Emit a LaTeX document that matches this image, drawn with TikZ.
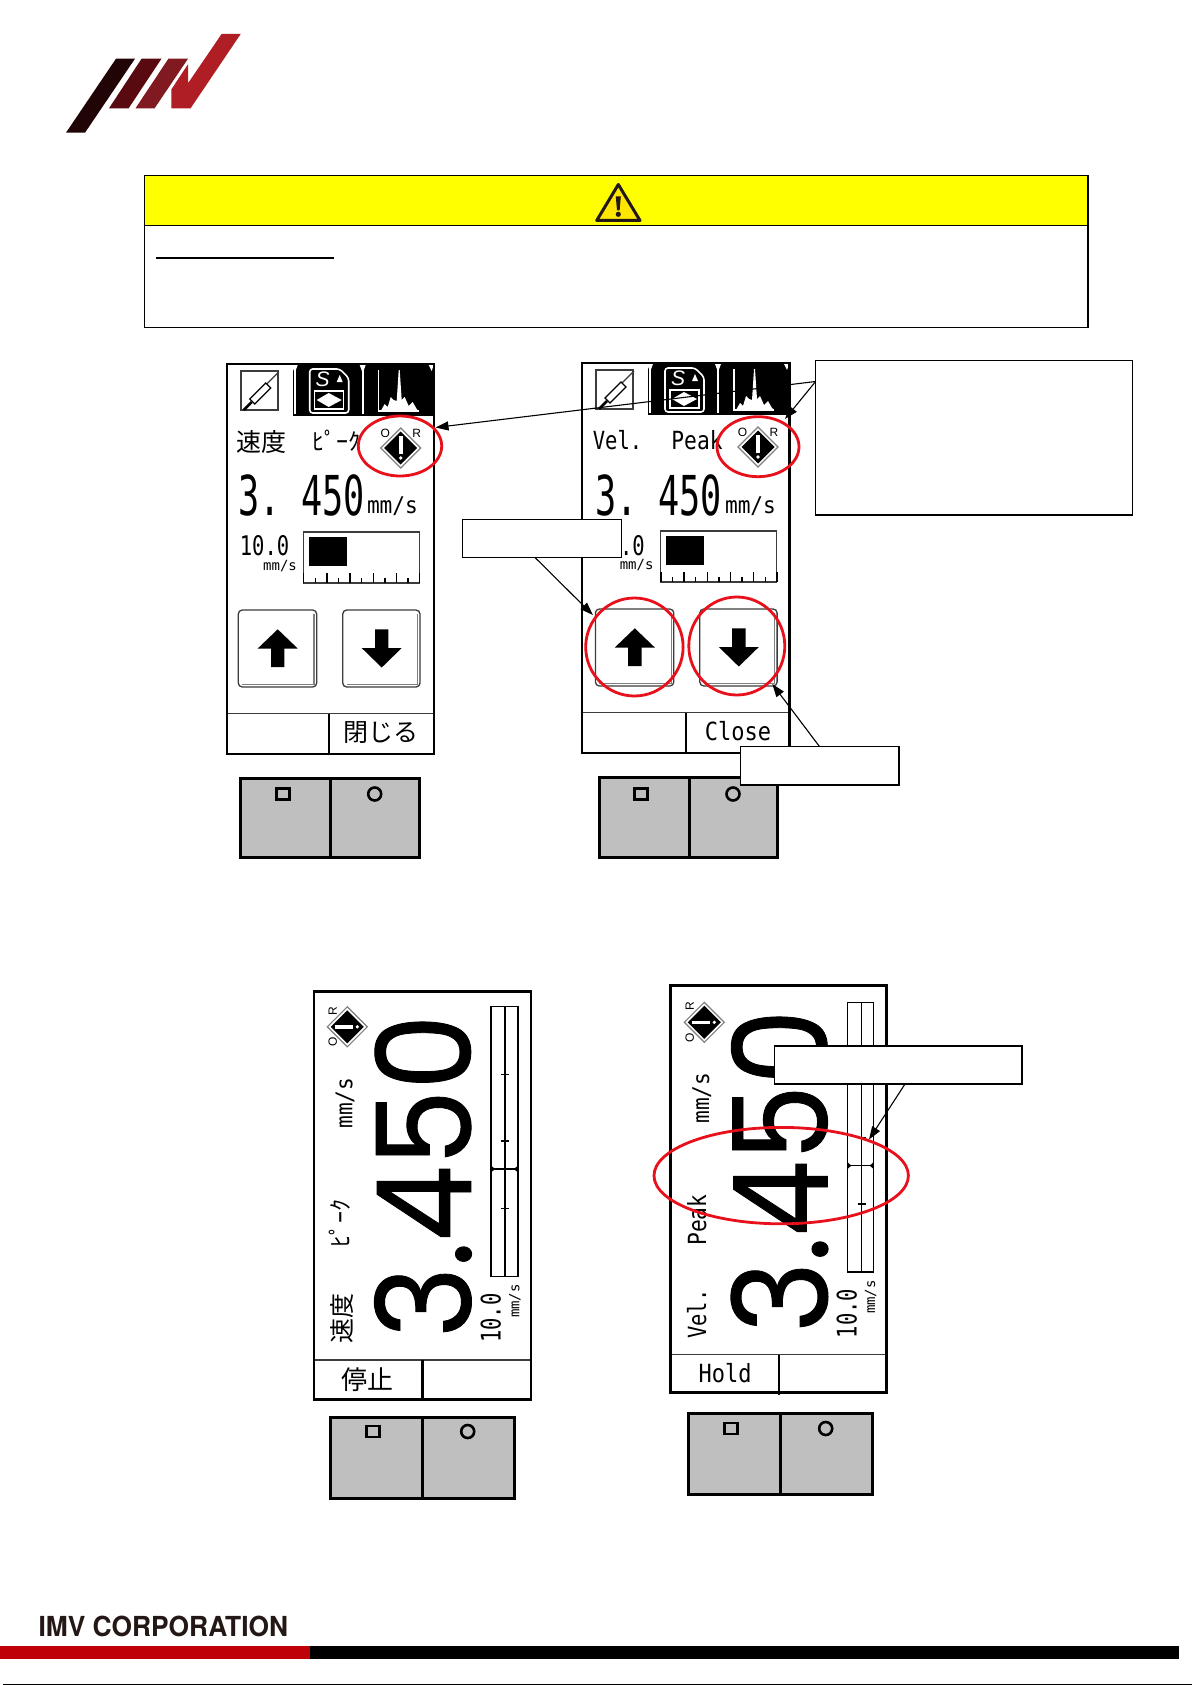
\documentclass[tikz,border=0pt]{standalone}
\usepackage{fontspec}
\usepackage{graphicx}
\usetikzlibrary{arrows.meta}
\setmainfont{Liberation Sans}
\newfontfamily\cjkf{Noto Sans CJK JP}
\newfontfamily\lcdf{DejaVu Sans Mono}
\newfontfamily\herosf{TeX Gyre Heros}
\newfontfamily\bigf[FakeBold=0.7]{Poppins}
\definecolor{lcdgrey}{HTML}{3C3C3C}
\definecolor{panelgrey}{HTML}{BFBFBF}
\definecolor{ringred}{HTML}{E8101A}
\definecolor{inkdark}{HTML}{231815}
\definecolor{logoa}{HTML}{200406}
\definecolor{logob}{HTML}{590A10}
\definecolor{logoc}{HTML}{801A20}
\definecolor{logod}{HTML}{B01E25}
\definecolor{barred}{HTML}{C00008}
\definecolor{warnyellow}{HTML}{FFFF00}
\definecolor{warninner}{HTML}{FFE600}
\newcommand{\lcdt}[3]{\scalebox{#2}[1]{\lcdf\fontsize{#1pt}{#1pt}\selectfont #3}}
\newcommand{\cjkt}[3]{\scalebox{#2}[1]{\cjkf\fontsize{#1pt}{#1pt}\selectfont #3}}
\newcommand{\bigt}{\scalebox{0.92}[1]{\bigf\fontsize{131pt}{131pt}\selectfont 3.450}}
\tikzset{
  txt/.style={inner sep=0pt,outer sep=0pt,text=black},
  callout/.style={draw=black,fill=white,line width=1.5pt,inner sep=0pt,outer sep=0pt},
  ring/.style={draw=ringred,line width=2.8pt},
  lead/.style={draw=black,line width=1.1pt},
  leadarrow/.style={lead,-{Triangle[length=13pt,width=9pt]}},
  thinlcd/.style={draw=lcdgrey,line width=1.2pt},
  panelline/.style={draw=black,line width=3pt},
  scr/.style={draw=black,line width=2.8pt},
}
% operator panel: x0,y0,x1,y1,divider,square x,circle x,mark y
\newcommand{\panel}[8]{%
  \fill[panelgrey] (#1,#2) rectangle (#3,#4);
  \draw[panelline] (#1,#2) rectangle (#3,#4);
  \draw[panelline] (#5,#2) -- (#5,#4);
  \draw[black,line width=2.6pt] (#6-6.5,#8-5.5) rectangle (#6+6.5,#8+5.5);
  \draw[black,line width=2.6pt] (#7,#8) circle (6.5);
}
% diamond icon: name,x,y,rotation
\newcommand{\diamicon}[4]{%
  \begin{scope}[shift={(#2,#3)},rotate=#4]
    \draw[gray,line width=1.2pt,fill=white] (0,-20) -- (20,0) -- (0,20) -- (-20,0) -- cycle;
    \fill[black] (0,-16.5) -- (16.5,0) -- (0,16.5) -- (-16.5,0) -- cycle;
    \fill[white] (-1.8,-12) rectangle (1.8,6);
    \fill[white] (0,10) circle (1.8);
    \node[txt,rotate=#4,font=\fontsize{12pt}{12pt}\selectfont] (#1o) at (-15.5,-14.5) {O};
    \node[txt,rotate=#4,font=\fontsize{12pt}{12pt}\selectfont] (#1r) at (16,-14.5) {R};
  \end{scope}
}
% upper screen frame with tab bar; x0,y0,divider offset,inner shift,name
\newcommand{\upscreen}[5]{%
  \begin{scope}[shift={(#1,#2)}]
    \fill[white] (0,0) rectangle (207.5,390);
    \fill[black] (66,0) rectangle (207.5,52);
    \draw[white,line width=1.6pt] (68,5) -- (68,50) (136,5) -- (136,50);
    \fill[white] (65,1) -- (71,1) -- (68,9) -- cycle;
    \fill[white] (133,1) -- (139,1) -- (136,9) -- cycle;
    \fill[white] (202,1) -- (207,1) -- (205,7) -- cycle;
    % pencil icon
    \draw[lcdgrey,line width=1.6pt] (14,7) rectangle (51,46);
    \draw[lcdgrey,line width=1.2pt] (52,8) -- (38,22);
    \draw[black,line width=1.2pt,fill=white] (39,19) -- (44,24) -- (28,40) -- (23,35) -- cycle;
    \draw[black,line width=2.6pt] (25,38) -- (17,46);
    % S-card icon
    \draw[white,line width=1.6pt,rounded corners=3pt] (83,5) -- (113,5) -- (122,14) -- (122,49) -- (83,49) -- cycle;
    \draw[white,line width=1.4pt] (88,27) rectangle (117,45);
    \fill[white] (90,36) -- (102,29) -- (115,36) -- (102,43) -- cycle;
    \node[txt,text=white,font=\itshape\fontsize{21pt}{21pt}\selectfont] (#5card) at (96,15.5) {S};
    \fill[white] (116,18) -- (110,18) -- (113,11) -- cycle;
    % spectrum icon
    \draw[white,line width=1.3pt] (152,6) -- (152,47) -- (192,47);
    \fill[white] (154,47) -- (158,40) -- (161,43) -- (164,33) -- (167,36) -- (170,37) -- (172,6) -- (173,6) -- (175,36) -- (178,33) -- (182,42) -- (186,38) -- (190,45) -- (192,47) -- cycle;
    \begin{scope}[xshift=#4]
      % level gauge
      \draw[thinlcd] (76.6,168) rectangle (193,219);
      \fill[black] (82,172.5) rectangle (120,202);
      \foreach \i in {0,...,10} {
        \draw[black,line width=1.4pt] (77+\i*11.6,219) -- (77+\i*11.6,{219-(mod(\i,2)==0?10:5)});
      }
      % buttons
      \draw[lcdgrey,line width=1.3pt,rounded corners=4pt] (11.6,246) rectangle (90,323);
      \draw[gray,line width=1.5pt] (87.5,250) -- (87.5,320.5) -- (15,320.5);
      \draw[lcdgrey,line width=1.3pt,rounded corners=4pt] (116,246) rectangle (193.3,323);
      \draw[gray,line width=1.5pt] (190.8,250) -- (190.8,320.5) -- (120,320.5);
      \fill[black] (51,265.3) -- (71,284.5) -- (57.7,284.5) -- (57.7,303) -- (44.3,303) -- (44.3,284.5) -- (31,284.5) -- cycle;
      \fill[black] (155,303.5) -- (175,284) -- (161.7,284) -- (161.7,265.3) -- (148.3,265.3) -- (148.3,284) -- (135,284) -- cycle;
    \end{scope}
    % soft keys
    \draw[lcdgrey,line width=1.4pt] (0,349.5) -- (207.5,349.5);
    \draw[black,line width=2pt] (#3,349.5) -- (#3,390);
    \draw[black,line width=2.4pt] (0,0) rectangle (207.5,390);
  \end{scope}
}
% rotated screen gauge: x0,y0,x1,y1,centre x,marker y,tick ys list
\newcommand{\rotgauge}[7]{%
  \draw[black,line width=1.3pt] (#1,#2) rectangle (#3,#4);
  \draw[black,line width=1.3pt] (#5,#2) -- (#5,#4);
  \foreach \ty in {#7} { \draw[black,line width=1.2pt] (#5-4,\ty) -- (#5+4,\ty); }
  \draw[black,line width=1.2pt] (#1,#6) -- (#3,#6);
  \fill[black] (#1,#6-3.5) -- (#1+4,#6) -- (#1,#6+3.5) -- cycle;
  \fill[black] (#3,#6-3.5) -- (#3-4,#6) -- (#3,#6+3.5) -- cycle;
}
\begin{document}
\begin{tikzpicture}[x=1pt,y=-1pt]
\useasboundingbox (0,0) rectangle (1192,1685);
\fill[white] (0,0) rectangle (1192,1685);

% ---------- logo
\fill[logoa] (116,58.7) -- (135,58.7) -- (85,132.7) -- (66,132.7) -- cycle;
\fill[logob] (141.6,58.7) -- (161.5,58.7) -- (128.6,108.3) -- (109,108.3) -- cycle;
\fill[logoc] (168.4,58.7) -- (188,58.7) -- (154.6,108.3) -- (135.5,108.3) -- cycle;
\fill[logod] (221.6,34) -- (240.7,34) -- (190.6,108.3) -- (171.4,108.3) -- (171.4,89.3) -- (188,64.3) -- (188,83.3) -- cycle;

% ---------- warning box
\fill[warnyellow] (144.5,175.3) rectangle (1088,225.3);
\draw[black,line width=1.2pt] (144.5,175.3) rectangle (1088,327.3);
\draw[black,line width=1.2pt] (144.5,225.3) -- (1088,225.3);
\draw[inkdark,fill=warninner,line width=3pt,line join=round] (618.3,184.5) -- (640,220.5) -- (596.7,220.5) -- cycle;
\fill[inkdark] (615.8,196.5) -- (620.8,196.5) -- (619.6,210.5) -- (617,210.5) -- cycle;
\fill[inkdark] (618.3,214.3) circle (2.6);
\draw[black,line width=2pt] (156,257.7) -- (334,257.7);

% ---------- upper left screen
\upscreen{226.7}{364}{102.6}{0}{sa}
\node[txt] (saVel) at (261,442.5) {\cjkt{25}{1}{速度}};
\node[txt] (saPeak) at (336.5,441) {\cjkt{24}{1}{ﾋﾟｰｸ}};
\diamicon{sad}{400.7}{448}{0}
\node[txt,anchor=south west] (saVal) at (238,516) {\lcdt{55}{0.64}{3.\ 450}};
\node[txt,anchor=south west] (saUnit) at (367,516) {\lcdt{23}{0.92}{mm/s}};
\node[txt] (saRange) at (264.5,546) {\lcdt{27}{0.76}{10.0}};
\node[txt] (saRangeU) at (280,566.5) {\lcdt{14}{1}{mm/s}};
\node[txt] (saClose) at (381,733) {\cjkt{25}{1}{閉じる}};
\panel{240}{778}{419.5}{857}{330.3}{283}{374.7}{794}

% ---------- upper right screen
\upscreen{582}{363}{103.7}{1.8}{sb}
\node[txt] (sbVel) at (617.5,440) {\lcdt{25}{0.82}{Vel.}};
\node[txt] (sbPeak) at (697,440) {\lcdt{25}{0.85}{Peak}};
\diamicon{sbd}{758}{447}{0}
\node[txt,anchor=south west] (sbVal) at (595,516) {\lcdt{55}{0.64}{3.\ 450}};
\node[txt,anchor=south west] (sbUnit) at (725,516) {\lcdt{23}{0.92}{mm/s}};
\node[txt] (sbRange) at (620,546) {\lcdt{27}{0.76}{10.0}};
\node[txt] (sbRangeU) at (636.6,565.5) {\lcdt{14}{1}{mm/s}};
\node[txt] (sbClose) at (738,731.5) {\lcdt{25}{0.88}{Close}};
\panel{599.6}{777.7}{777.5}{857.7}{689.3}{641}{733}{794}

% ---------- lower left screen
\fill[white] (314,991.3) rectangle (531,1399.8);
\node[txt,rotate=90] (scVal) at (423,1176) {\bigt};
\node[txt,rotate=90] (scVel) at (341.7,1318) {\cjkt{25}{1}{速度}};
\node[txt,rotate=90] (scPeak) at (340,1223) {\cjkt{24}{1}{ﾋﾟｰｸ}};
\node[txt,rotate=90] (scUnit) at (345,1103) {\lcdt{23}{0.92}{mm/s}};
\node[txt,rotate=90] (scRange) at (490.7,1318) {\lcdt{27}{0.76}{10.0}};
\node[txt,rotate=90] (scRangeU) at (515,1301) {\lcdt{14}{1}{mm/s}};
\diamicon{scd}{347.3}{1026.8}{90}
\rotgauge{491}{1006.8}{518}{1276.5}{505}{1169}{1074.3,1141,1208.3}
\draw[lcdgrey,line width=1.4pt] (314,1359.8) -- (531,1359.8);
\draw[black,line width=2.6pt] (422.7,1359.8) -- (422.7,1399.8);
\draw[scr] (314,991.3) rectangle (531,1399.8);
\node[txt] (scHold) at (367.7,1380) {\cjkt{26}{1}{停止}};
\panel{330}{1417.7}{514.5}{1498.6}{422.7}{373}{467.7}{1431.5}

% ---------- lower right screen
\fill[white] (670.7,985.8) rectangle (886.7,1392.5);
\node[txt,rotate=90] (sdVal) at (779.5,1171) {\bigt};
\node[txt,rotate=90] (sdVel) at (696.7,1314) {\lcdt{25}{0.82}{Vel.}};
\node[txt,rotate=90] (sdPeak) at (696.7,1220) {\lcdt{25}{0.85}{Peak}};
\node[txt,rotate=90] (sdUnit) at (701.7,1098) {\lcdt{23}{0.92}{mm/s}};
\node[txt,rotate=90] (sdRange) at (846.7,1313.5) {\lcdt{27}{0.76}{10.0}};
\node[txt,rotate=90] (sdRangeU) at (870.7,1297) {\lcdt{14}{1}{mm/s}};
\diamicon{sdd}{704.3}{1022.3}{90}
\rotgauge{847.3}{1002.7}{873.7}{1272}{861.7}{1165.6}{1070,1138,1204}
\draw[lcdgrey,line width=1.4pt] (670.7,1354.6) -- (886.7,1354.6);
\draw[black,line width=2.6pt] (779,1354.6) -- (779,1394.6);
\draw[scr] (670.7,985.8) rectangle (886.7,1392.5);
\node[txt] (sdHold) at (725,1373) {\lcdt{25}{0.88}{Hold}};
\panel{688.3}{1413}{872.7}{1494}{780.7}{731}{825.7}{1428.5}

% ---------- red rings
\draw[ring] (400,446) ellipse [x radius=41.7,y radius=30];
\draw[ring] (758,446.7) ellipse [x radius=41,y radius=30];
\draw[ring] (634.4,647) ellipse [x radius=48.7,y radius=49];
\draw[ring] (736.8,646) ellipse [x radius=48,y radius=49];
\draw[ring] (781.2,1175.6) ellipse [x radius=127.2,y radius=48.2];

% ---------- callouts and connectors
\node[callout,minimum width=317pt,minimum height=154.3pt] (noteBox) at (974.1,437.85) {};
\node[callout,minimum width=159pt,minimum height=38pt] (upBox) at (542,538.3) {};
\node[callout,minimum width=158.4pt,minimum height=38.3pt] (downBox) at (819.8,765.85) {};
\node[callout,minimum width=247.3pt,minimum height=38pt] (holdBox) at (898.35,1065) {};
\coordinate (noteStart) at (815.6,381.5);
\coordinate (tipLeft) at (435.5,427.5);
\coordinate (tipRight) at (785,419);
\coordinate (upStart) at (534.8,557.3);
\coordinate (tipUp) at (592.9,615);
\coordinate (downStart) at (819.6,746.7);
\coordinate (tipDown) at (772.3,684);
\coordinate (holdStart) at (905,1084);
\coordinate (tipHold) at (869,1139.5);
\draw[leadarrow] (noteStart) -- (tipLeft);
\draw[leadarrow] (noteStart) -- (tipRight);
\draw[leadarrow] (upStart) -- (tipUp);
\draw[leadarrow] (downStart) -- (tipDown);
\draw[leadarrow] (holdStart) -- (tipHold);

% ---------- footer
\node[txt,anchor=west,text=inkdark] (brand) at (38.5,1626) {\scalebox{0.955}[1]{\herosf\bfseries\fontsize{27.6pt}{27.6pt}\selectfont IMV CORPORATION}};
\fill[barred] (0,1646) rectangle (310,1659);
\fill[black] (310,1646) rectangle (1179,1659);
\draw[black,line width=1pt] (3,1684.5) -- (1192,1684.5);
\end{tikzpicture}
\end{document}
